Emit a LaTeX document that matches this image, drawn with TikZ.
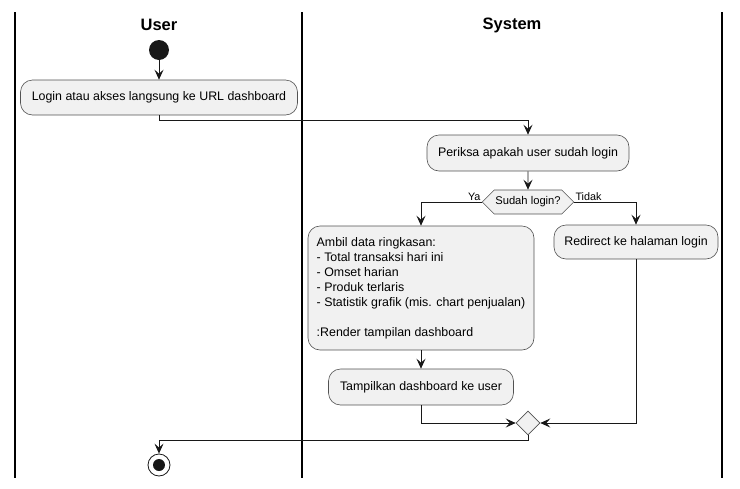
\documentclass[tikz,border=0pt]{standalone}
\usepackage{fontspec}
\setmainfont{Liberation Sans}
\usetikzlibrary{arrows.meta,shapes.geometric,shapes.symbols}
\definecolor{boxfill}{HTML}{F1F1F1}
\definecolor{boxline}{HTML}{181818}
\begin{document}
\begin{tikzpicture}[x=1pt,y=-1pt,
  actstyle/.style 2 args={draw=boxline!75, fill=boxfill, line width=0.6pt, rounded corners=12pt,
    inner sep=0pt, minimum width=#1, minimum height=#2, font=\fontsize{12.4}{15}\selectfont},
  hexstyle/.style={draw=boxline!75, fill=boxfill, line width=0.6pt, shape=signal, signal to=west and east,
    inner xsep=1pt, inner ysep=0pt, minimum height=24pt, font=\fontsize{11.2}{12}\selectfont},
  mergestyle/.style={draw=boxline!75, fill=boxfill, line width=0.6pt, shape=diamond, inner sep=0pt, minimum size=24pt},
  startstyle/.style={circle, fill=boxline, inner sep=0pt, minimum size=20pt},
  endstyle/.style={circle, draw=boxline, line width=0.8pt, fill=white, inner sep=0pt, minimum size=22pt,
    path picture={\fill[boxline] (path picture bounding box.center) circle (6pt);}},
  titlestyle/.style={font=\fontsize{16.5}{20}\selectfont\bfseries},
  flow/.style={draw=boxline, line width=0.8pt, -{Stealth[length=10pt, width=9pt, inset=4pt]}},
  guardstyle/.style={font=\fontsize{10.8}{11}\selectfont, inner sep=1pt},
  lane/.style={draw=black, line width=1.5pt}]
  \useasboundingbox (0,0) rectangle (740,488);

  \foreach \x in {15,302,722}
  \draw[lane] (\x,12) -- (\x,478);

  \node[titlestyle] (user) at (159,25) {User};
  \node[titlestyle] (system) at (512,25) {System};

  \node[startstyle] (mulai) at (159,50) {};
  \node[actstyle={277pt}{35pt}] (login) at (159,97.5) {Login atau akses langsung ke URL dashboard};
  \node[actstyle={202pt}{36pt}] (cek) at (528,153) {Periksa apakah user sudah login};
  \node[hexstyle] (sudah) at (528,202) {Sudah login?};
  \node[actstyle={226pt}{124pt}, align=left] (ambil) at (421,288) {Ambil data ringkasan:\\
    - Total transaksi hari ini\\
    - Omset harian\\
    - Produk terlaris\\
    - Statistik grafik (mis. chart penjualan)\\[15pt]
    :Render tampilan dashboard};
  \node[actstyle={164pt}{34pt}] (redirect) at (636,242) {Redirect ke halaman login};
  \node[actstyle={185pt}{36pt}] (tampil) at (421,387) {Tampilkan dashboard ke user};
  \node[mergestyle] (gabung) at (528,423) {};
  \node[endstyle] (selesai) at (159,465) {};

  \draw[flow] (mulai) -- (login);
  \draw[flow] (login.south) -- ++(0,5) -| (cek.north);
  \draw[flow] (cek) -- (sudah);
  \draw[flow] (sudah.west) -| (ambil.north) node[guardstyle, pos=0, above left] {Ya};
  \draw[flow] (sudah.east) -| (redirect.north) node[guardstyle, pos=0, above right] {Tidak};
  \draw[flow] (ambil) -- (tampil);
  \draw[flow] (tampil.south) |- (gabung.west);
  \draw[flow] (redirect.south) |- (gabung.east);
  \draw[flow] (gabung.south) -- ++(0,5) -| (selesai.north);
\end{tikzpicture}
\end{document}
